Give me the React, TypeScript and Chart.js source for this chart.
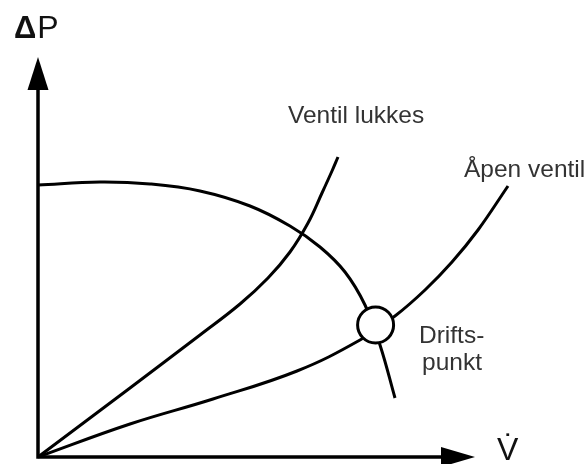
import React, { useEffect, useRef } from "react";
import { Chart, registerables } from "chart.js";

Chart.register(...registerables);

// Pump curve (ΔP over volume flow), arbitrary units
const pumpFlow = [0, 1.55, 2.8, 4.05, 5.3, 6.3, 7.05, 7.675, 8.175, 8.55, 8.925];
const pumpHead = [6.8, 6.875, 6.825, 6.65, 6.275, 5.775, 5.25, 4.625, 3.8, 2.8, 1.475];

// System curve, valve closing
const closingFlow = [0, 2.3, 4.05, 5.05, 5.75, 6.3, 6.75, 7.1, 7.35, 7.5];
const closingHead = [0, 1.725, 3.05, 3.825, 4.475, 5.125, 5.85, 6.6, 7.15, 7.5];

// System curve, open valve
const openFlow = [0, 2.3, 4.375, 6.475, 8.05, 8.925, 9.675, 10.35, 11.0, 11.75];
const openHead = [0, 0.825, 1.45, 2.15, 2.925, 3.525, 4.175, 4.875, 5.675, 6.775];

// Operating point
const operatingFlow = [8.44];
const operatingHead = [3.3];

const axisLabels = ["Δ", "P", "V\u0307"];
const curveLabels = ["Ventil lukkes", "Åpen ventil"];
const pointLabel = ["Drifts-", "punkt"];

const toPoints = (xs: number[], ys: number[]) => xs.map((x, i) => ({ x, y: ys[i] }));

export default function App() {
  const ref = useRef<HTMLCanvasElement>(null);

  useEffect(() => {
    const canvas = ref.current!;
    const FONT = '"Liberation Sans", Arial, sans-serif';

    const annot = {
      id: "annot",
      beforeDatasetsDraw(chart: any) {
        const { ctx } = chart;
        const xs = chart.scales.x;
        const ys = chart.scales.y;
        const ox = xs.getPixelForValue(0);
        const oy = ys.getPixelForValue(0);
        const yTip = ys.getPixelForValue(10);
        const yBase = ys.getPixelForValue(9.175);
        const xTip = xs.getPixelForValue(10.925);
        const xBase = xs.getPixelForValue(10.075);
        ctx.save();
        ctx.strokeStyle = "#000";
        ctx.fillStyle = "#000";
        ctx.lineWidth = 3.5;
        ctx.lineCap = "butt";
        ctx.beginPath();
        ctx.moveTo(ox, oy + 1.5);
        ctx.lineTo(ox, yBase);
        ctx.moveTo(ox - 1.75, oy);
        ctx.lineTo(xBase, oy);
        ctx.stroke();
        // arrow heads
        ctx.beginPath();
        ctx.moveTo(ox, yTip);
        ctx.lineTo(ox - 10.5, yBase);
        ctx.lineTo(ox + 10.5, yBase);
        ctx.closePath();
        ctx.fill();
        ctx.beginPath();
        ctx.moveTo(xTip, oy);
        ctx.lineTo(xBase, oy - 10);
        ctx.lineTo(xBase, oy + 10);
        ctx.closePath();
        ctx.fill();
        ctx.restore();
      },
      afterDatasetsDraw(chart: any) {
        const { ctx } = chart;
        const xs = chart.scales.x;
        const ys = chart.scales.y;
        const P = (x: number, y: number) => [xs.getPixelForValue(x), ys.getPixelForValue(y)];
        ctx.save();
        ctx.textBaseline = "alphabetic";
        ctx.textAlign = "left";
        ctx.fillStyle = "#111";
        let [x, y] = P(-0.6, 10.475);
        ctx.font = `bold 31px ${FONT}`;
        ctx.fillText(axisLabels[0], x, y);
        const dw = ctx.measureText(axisLabels[0]).width;
        ctx.font = `32px ${FONT}`;
        ctx.fillText(axisLabels[1], x + dw + 1, y);
        [x, y] = P(11.475, -0.075);
        ctx.fillText(axisLabels[2], x, y);
        ctx.fillStyle = "#333";
        ctx.font = `24.5px ${FONT}`;
        [x, y] = P(6.25, 8.35);
        ctx.fillText(curveLabels[0], x, y);
        [x, y] = P(10.65, 7.0);
        ctx.fillText(curveLabels[1], x, y);
        [x, y] = P(9.525, 2.85);
        ctx.fillText(pointLabel[0], x, y);
        [x, y] = P(9.6, 2.175);
        ctx.fillText(pointLabel[1], x, y);
        ctx.restore();
      },
    };

    const line = (xs: number[], ys: number[]) => ({
      data: toPoints(xs, ys),
      showLine: true,
      borderColor: "#000",
      borderWidth: 3,
      pointRadius: 0,
      pointHoverRadius: 0,
      tension: 0.4,
      fill: false,
    });

    const chart = new Chart(canvas, {
      type: "scatter",
      data: {
        datasets: [
          {
            data: toPoints(operatingFlow, operatingHead),
            pointRadius: 18,
            pointHoverRadius: 18,
            pointBorderWidth: 3,
            pointBorderColor: "#000",
            pointBackgroundColor: "#fff",
            showLine: false,
          } as any,
          line(pumpFlow, pumpHead),
          line(closingFlow, closingHead),
          line(openFlow, openHead),
        ],
      },
      options: {
        animation: false,
        responsive: false,
        events: [],
        layout: { padding: 0, autoPadding: false },
        plugins: { legend: { display: false }, tooltip: { enabled: false } },
        scales: {
          x: { type: "linear", min: -0.95, max: 13.725, display: false },
          y: { type: "linear", min: -0.175, max: 11.425, display: false },
        },
      },
      plugins: [annot],
    });
    return () => chart.destroy();
  }, []);

  return (
    <div style={{ position: "fixed", left: 0, top: 0, width: 587, height: 464, background: "#fff" }}>
      <canvas ref={ref} width={587} height={464} style={{ display: "block" }} />
    </div>
  );
}
